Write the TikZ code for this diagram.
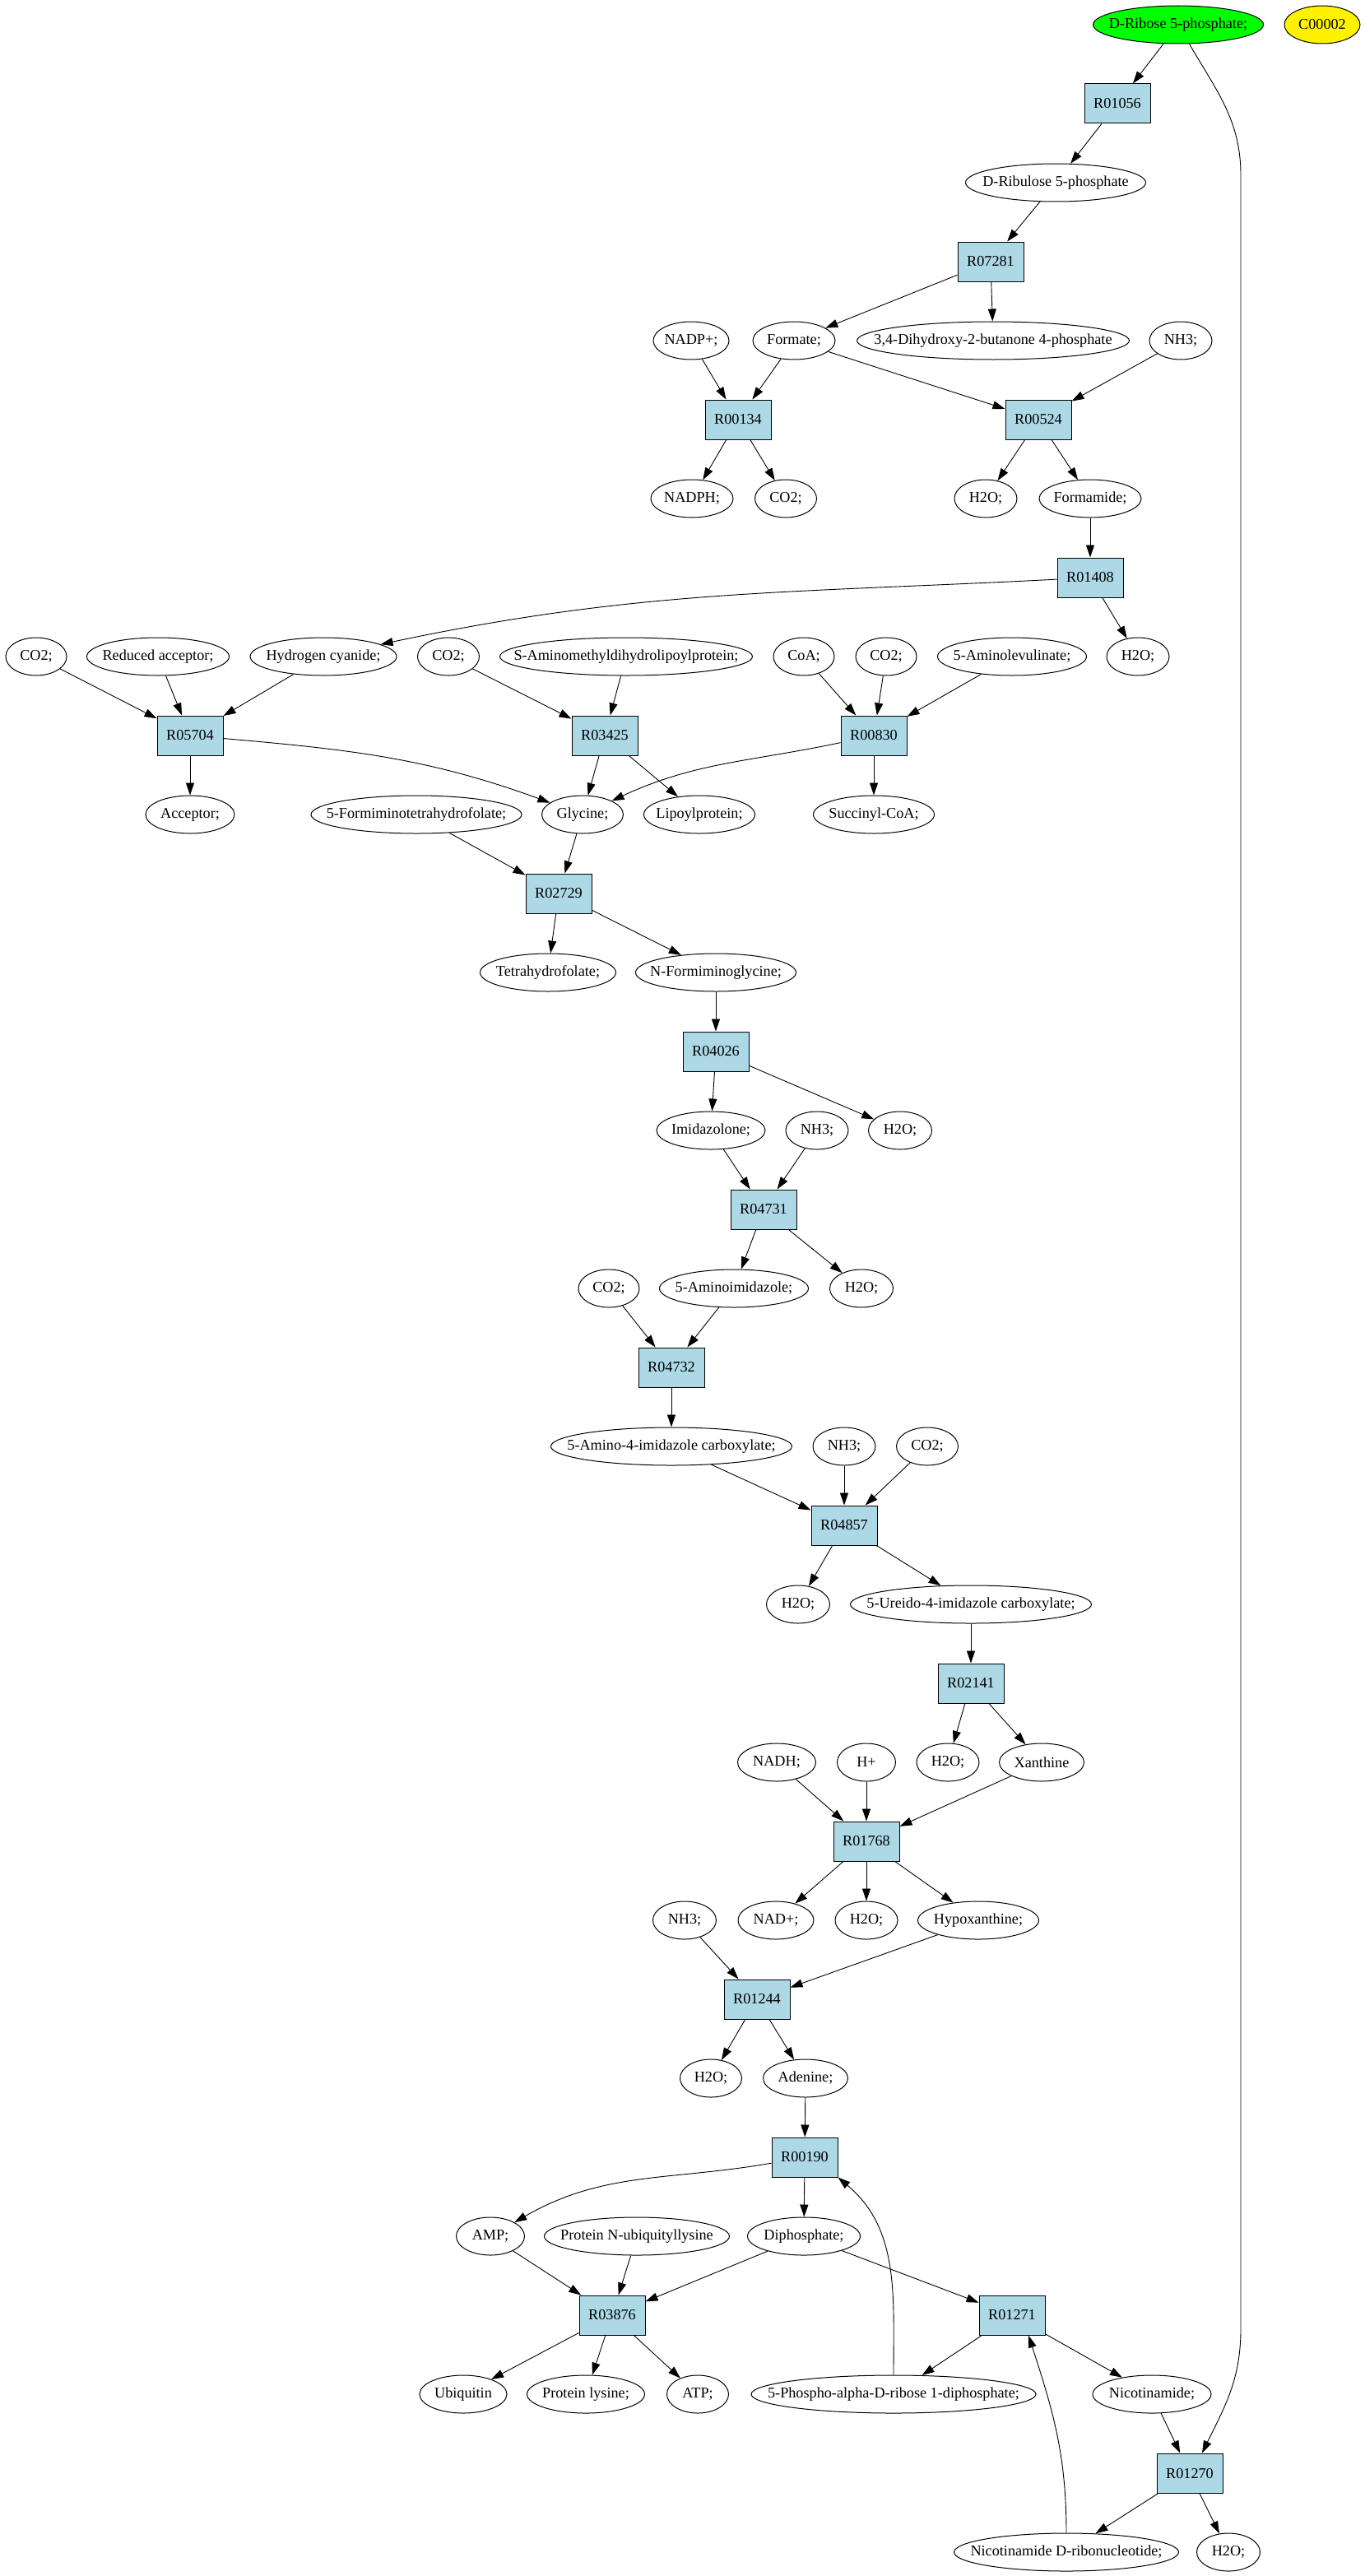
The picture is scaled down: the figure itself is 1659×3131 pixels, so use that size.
\documentclass[tikz,border=0pt]{standalone}
\usepackage{fontspec}
\setmainfont{Liberation Serif}
\usetikzlibrary{positioning, shapes.geometric, arrows.meta}
\definecolor{rxnblue}{HTML}{ADD8E6}

\begin{document}
\begin{tikzpicture}[
    node distance=96pt,
    on grid,
    font=\fontsize{18.2}{22}\selectfont,
    >={Triangle[length=15pt, width=10pt]},
    rxn/.style={draw, line width=1pt, fill=rxnblue, minimum width=80pt, minimum height=48pt, inner sep=0pt},
    cpd/.style={ellipse, draw, line width=1pt, inner xsep=-200pt, inner ysep=0pt, minimum height=46pt, minimum width=#1},
    cpd/.default=76pt,
    every edge/.append style={line width=0.9pt}
]
   \useasboundingbox (0,0) rectangle (1659pt,-3131pt);

   % Start
   \node[cpd=207pt, fill=green] (DRib) at (1432pt,-30pt) {D-Ribose 5-phosphate;};
   \node[cpd=92pt, fill=yellow] (C00002) [right=175pt of DRib] {C00002};
   \node[rxn] (R01056) [below=of DRib, xshift=-74pt] {R01056};
   \node[cpd=219pt] (DRibulose) [below=of R01056, xshift=-75pt] {D-Ribulose 5-phosphate};
   \node[rxn] (R07281) [below=of DRibulose, xshift=-79pt] {R07281};

   % Formate / formamide
   \node[cpd=331pt] (Dihydroxy) [below=of R07281, xshift=3pt] {3,4-Dihydroxy-2-butanone 4-phosphate};
   \node[cpd=100pt] (Formate) [left=242pt of Dihydroxy] {Formate;};
   \node[cpd=92pt] (NADPplus) [left=125pt of Formate] {NADP+;};
   \node[cpd] (NH3a) [right=228pt of Dihydroxy] {NH3;};
   \node[rxn] (R00134) [below=of Formate, xshift=-68pt] {R00134};
   \node[rxn] (R00524) [below=of NH3a, xshift=-173pt] {R00524};
   \node[cpd=100pt] (NADPH) [below=of R00134, xshift=-56pt] {NADPH;};
   \node[cpd=75pt] (CO2a) [below=of R00134, xshift=58pt] {CO2;};
   \node[cpd] (H2Oa) [below=of R00524, xshift=-64pt] {H2O;};
   \node[cpd=124pt] (Formamide) [below=of R00524, xshift=63pt] {Formamide;};
   \node[rxn] (R01408) [below=of Formamide] {R01408};

   % Glycine row
   \node[cpd] (H2Ob) [below=of R01408, xshift=58pt] {H2O;};
   \node[cpd=181pt] (ALA) [left=153pt of H2Ob] {5-Aminolevulinate;};
   \node[cpd=74pt] (CO2d) [left=153pt of ALA] {CO2;};
   \node[cpd=74pt] (CoA) [left=100pt of CO2d] {CoA;};
   \node[cpd=307pt] (SAmino) [left=216pt of CoA] {S-Aminomethyldihydrolipoylprotein;};
   \node[cpd=75pt] (CO2c) [left=216pt of SAmino] {CO2;};
   \node[cpd=178pt] (HCN) [left=152pt of CO2c] {Hydrogen cyanide;};
   \node[cpd=173pt] (RedAcc) [left=201pt of HCN] {Reduced acceptor;};
   \node[cpd=74pt] (CO2b) [left=148pt of RedAcc] {CO2;};
   \node[rxn] (R05704) [below=of RedAcc, xshift=39pt] {R05704};
   \node[rxn] (R03425) [below=of SAmino, xshift=-26pt] {R03425};
   \node[rxn] (R00830) [below=of CO2d, xshift=-15pt] {R00830};
   \node[cpd=108pt] (Acceptor) [below=of R05704] {Acceptor;};
   \node[cpd=99pt] (Glycine) [below=of R03425, xshift=-27pt] {Glycine;};
   \node[cpd=256pt] (FTHF) [left=202pt of Glycine] {5-Formiminotetrahydrofolate;};
   \node[cpd=135pt] (Lipoyl) [right=142pt of Glycine] {Lipoylprotein;};
   \node[cpd=147pt] (SuccCoA) [below=of R00830] {Succinyl-CoA;};
   \node[rxn] (R02729) [below=of Glycine, xshift=-29pt] {R02729};
   \node[cpd=165pt] (THF) [below=of R02729, xshift=-13pt] {Tetrahydrofolate;};
   \node[cpd=195pt] (NFG) [below=of R02729, xshift=191pt] {N-Formiminoglycine;};

   % Imidazole chain
   \node[rxn] (R04026) [below=of NFG] {R04026};
   \node[cpd=132pt] (Imidazolone) [below=of R04026, xshift=-6pt] {Imidazolone;};
   \node[cpd] (NH3b) [right=129pt of Imidazolone] {NH3;};
   \node[cpd=77pt] (H2Oc) [right=101pt of NH3b] {H2O;};
   \node[rxn] (R04731) [below=of Imidazolone, xshift=64pt] {R04731};
   \node[cpd=181pt] (AIm) [below=of R04731, xshift=-36pt] {5-Aminoimidazole;};
   \node[cpd=74pt] (CO2e) [left=152pt of AIm] {CO2;};
   \node[cpd=77pt] (H2Od) [right=155pt of AIm] {H2O;};
   \node[rxn] (R04732) [below=of AIm, xshift=-76pt] {R04732};
   \node[cpd=293pt] (AICA) [below=of R04732] {5-Amino-4-imidazole carboxylate;};
   \node[cpd] (NH3c) [right=210pt of AICA] {NH3;};
   \node[cpd=75pt] (CO2f) [right=101pt of NH3c] {CO2;};
   \node[rxn] (R04857) [below=of NH3c] {R04857};
   \node[cpd=77pt] (H2Oe) [below=of R04857, xshift=-56pt] {H2O;};
   \node[cpd=293pt] (Ureido) [below=of R04857, xshift=154pt] {5-Ureido-4-imidazole carboxylate;};

   % Purines
   \node[rxn] (R02141) [below=of Ureido] {R02141};
   \node[cpd] (H2Of) [below=of R02141, xshift=-28pt] {H2O;};
   \node[cpd=103pt] (Xanthine) [below=of R02141, xshift=86pt] {Xanthine};
   \node[cpd=71pt] (Hplus) [left=99pt of H2Of] {H+};
   \node[cpd=95pt] (NADH) [left=109pt of Hplus] {NADH;};
   \node[rxn] (R01768) [below=of Hplus] {R01768};
   \node[cpd] (H2Og) [below=of R01768] {H2O;};
   \node[cpd=92pt] (NADplus) [left=110pt of H2Og] {NAD+;};
   \node[cpd=147pt] (Hypox) [right=136pt of H2Og] {Hypoxanthine;};
   \node[cpd=77pt] (NH3d) [left=111pt of NADplus] {NH3;};
   \node[rxn] (R01244) [below=of NH3d, xshift=88pt] {R01244};
   \node[cpd=75pt] (H2Oh) [below=of R01244, xshift=-56pt] {H2O;};
   \node[cpd=103pt] (Adenine) [below=of R01244, xshift=59pt] {Adenine;};
   \node[rxn] (R00190) [below=of Adenine, xshift=-1pt] {R00190};

   % Bottom
   \node[cpd=137pt] (Diphos) [below=of R00190, xshift=-1pt] {Diphosphate;};
   \node[cpd=225pt] (PNU) [left=203pt of Diphos] {Protein N-ubiquityllysine};
   \node[cpd=83pt] (AMP) [left=178pt of PNU] {AMP;};
   \node[rxn] (R03876) [below=of PNU, xshift=-30pt] {R03876};
   \node[rxn] (R01271) [below=of Diphos, xshift=253pt] {R01271};
   \node[cpd=143pt] (PLys) [below=of R03876, xshift=-32pt] {Protein lysine;};
   \node[cpd=106pt] (Ubiquitin) [left=149pt of PLys] {Ubiquitin};
   \node[cpd=75pt] (ATP) [right=136pt of PLys] {ATP;};
   \node[cpd=346pt] (PRPP) [below=of R01271, xshift=-144pt] {5-Phospho-alpha-D-ribose 1-diphosphate;};
   \node[cpd=144pt] (Nicotinamide) [below=of R01271, xshift=170pt] {Nicotinamide;};
   \node[rxn] (R01270) [below=of Nicotinamide, xshift=46pt] {R01270};
   \node[cpd=273pt] (NicD) [below=of R01270, xshift=-150pt] {Nicotinamide D-ribonucleotide;};
   \node[cpd=77pt] (H2Oi) [below=of R01270, xshift=47pt] {H2O;};

   % long edge on the right
   \coordinate (railtop) at (1508pt,-213pt);
   \coordinate (railbot) at (1508pt,-2831pt);
   \draw[->, line width=0.9pt] (DRib) to[out=-60, in=90] (railtop) -- (railbot)
        to[out=-90, in=64] ([xshift=15pt]R01270.north);

   % Edges
   \path[->]
   (DRib) edge (R01056)
   (R01056) edge (DRibulose)
   (DRibulose) edge (R07281)
   (R07281) edge (Formate)
            edge (Dihydroxy)
   (NADPplus) edge (R00134)
   (Formate) edge (R00134)
             edge (R00524)
   (NH3a) edge (R00524)
   (R00134) edge (NADPH)
            edge (CO2a)
   (R00524) edge (H2Oa)
            edge (Formamide)
   (Formamide) edge (R01408)
   (R01408) edge [out=183, in=12] (HCN)
            edge (H2Ob)

   (CO2b) edge (R05704)
   (RedAcc) edge (R05704)
   (HCN) edge (R05704)
   (R05704) edge (Acceptor)
            edge [out=-5, in=160] (Glycine)
   (CO2c) edge (R03425)
   (SAmino) edge (R03425)
   (R03425) edge (Glycine)
            edge (Lipoyl)
   (CoA) edge (R00830)
   (CO2d) edge (R00830)
   (ALA) edge (R00830)
   (R00830) edge [out=192, in=25] (Glycine)
            edge (SuccCoA)
   (FTHF) edge (R02729)
   (Glycine) edge (R02729)
   (R02729) edge (THF)
            edge (NFG)
   (NFG) edge (R04026)

   (R04026) edge (Imidazolone)
            edge (H2Oc)
   (Imidazolone) edge (R04731)
   (NH3b) edge (R04731)
   (R04731) edge (AIm)
            edge (H2Od)
   (CO2e) edge (R04732)
   (AIm) edge (R04732)
   (R04732) edge (AICA)
   (AICA) edge (R04857)
   (NH3c) edge (R04857)
   (CO2f) edge (R04857)
   (R04857) edge (H2Oe)
            edge (Ureido)
   (Ureido) edge (R02141)

   (R02141) edge (H2Of)
            edge (Xanthine)
   (NADH) edge (R01768)
   (Hplus) edge (R01768)
   (Xanthine) edge (R01768)
   (R01768) edge (NADplus)
            edge (H2Og)
            edge (Hypox)
   (NH3d) edge (R01244)
   (Hypox) edge (R01244)
   (R01244) edge (H2Oh)
            edge (Adenine)
   (Adenine) edge (R00190)

   (R00190) edge [out=190, in=30] (AMP)
            edge (Diphos)
   (AMP) edge (R03876)
   (PNU) edge (R03876)
   (Diphos) edge (R03876)
            edge (R01271)
   (R03876) edge (Ubiquitin)
            edge (PLys)
            edge (ATP)
   (R01271) edge (PRPP)
            edge (Nicotinamide)
   (PRPP) edge [out=90, in=-40] (R00190.south east)
   (Nicotinamide) edge (R01270)
   (R01270) edge (NicD)
            edge (H2Oi)
   (NicD) edge [out=90, in=-72] ([xshift=20pt]R01271.south);
\end{tikzpicture}
\end{document}
